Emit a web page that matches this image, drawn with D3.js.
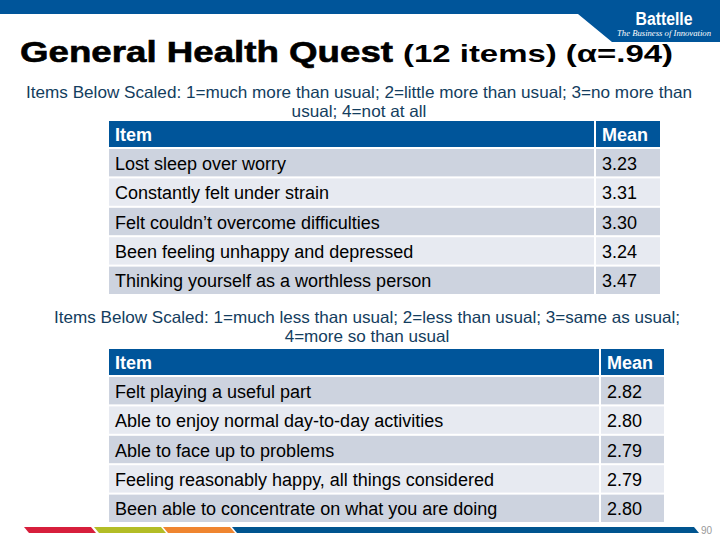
<!DOCTYPE html>
<html>
<head>
<meta charset="utf-8">
<script src="https://cdn.jsdelivr.net/npm/d3@7"></script>
<style>
  html, body { margin: 0; padding: 0; background: #fff; }
  svg { display: block; font-family: "Liberation Sans", Arial, sans-serif; }
</style>
</head>
<body>
<div id="chart"></div>
<script>
// data
const titleMain = "General Health Quest";
const titleSub  = "(12 items) (α=.94)";

const note1 = ["Items Below Scaled: 1=much more than usual; 2=little more than usual; 3=no more than",
               "usual; 4=not at all"];
const items1 = ["Lost sleep over worry", "Constantly felt under strain", "Felt couldn’t overcome difficulties",
                "Been feeling unhappy and depressed", "Thinking yourself as a worthless person"];
const means1 = [3.23, 3.31, 3.30, 3.24, 3.47];

const note2 = ["Items Below Scaled: 1=much less than usual; 2=less than usual; 3=same as usual;",
               "4=more so than usual"];
const items2 = ["Felt playing a useful part", "Able to enjoy normal day-to-day activities", "Able to face up to problems",
                "Feeling reasonably happy, all things considered", "Been able to concentrate on what you are doing"];
const means2 = [2.82, 2.80, 2.79, 2.79, 2.80];

const headers = ["Item", "Mean"];
const stripColors = ["#d71f3c", "#b3bd26", "#ef8530", "#00548f"];

const W = 720, H = 540;
const BLUE = "#00559a";
const ROW_DARK = "#cdd3df", ROW_LIGHT = "#e7eaf1";
const NOTE_COLOR = "#133d5e";
const CELL_FONT = 18;

const svg = d3.select("#chart").append("svg")
  .attr("width", W).attr("height", H);

// top banner
svg.append("path")
  .attr("d", "M0,0H720V42H612L578,14H0Z")
  .attr("fill", BLUE);

svg.append("text")
  .attr("x", 664).attr("y", 25)
  .attr("text-anchor", "middle")
  .attr("fill", "#fff").attr("font-weight", "bold").attr("font-size", 18)
  .attr("textLength", 57).attr("lengthAdjust", "spacingAndGlyphs")
  .text("Battelle");
svg.append("text")
  .attr("x", 664).attr("y", 36)
  .attr("text-anchor", "middle")
  .attr("fill", "#fff").attr("font-size", 8).attr("font-style", "italic")
  .attr("font-family", "'Liberation Serif', 'DejaVu Serif', serif")
  .attr("textLength", 94).attr("lengthAdjust", "spacingAndGlyphs")
  .text("The Business of Innovation");

// title
svg.append("text")
  .attr("x", 20).attr("y", 62)
  .attr("font-weight", "bold").attr("font-size", 30).attr("fill", "#000")
  .attr("stroke", "#000").attr("stroke-width", 0.6)
  .attr("textLength", 373).attr("lengthAdjust", "spacingAndGlyphs")
  .text(titleMain);
svg.append("text")
  .attr("x", 403).attr("y", 62)
  .attr("font-weight", "bold").attr("font-size", 24).attr("fill", "#000")
  .attr("textLength", 270).attr("lengthAdjust", "spacingAndGlyphs")
  .text(titleSub);

// notes: first line fitted to width, second line squeezed by same ratio
function drawNote(lines, cx, y0, w0) {
  let ratio = 1;
  lines.forEach((t, i) => {
    const el = svg.append("text")
      .attr("x", cx).attr("y", y0 + i * 18.5)
      .attr("text-anchor", "middle")
      .attr("font-size", 16.5).attr("fill", NOTE_COLOR)
      .text(t);
    const natural = el.node().getComputedTextLength();
    if (i === 0) ratio = w0 / natural;
    el.attr("textLength", natural * ratio).attr("lengthAdjust", "spacingAndGlyphs");
  });
}
drawNote(note1, 359, 98, 666);
drawNote(note2, 367, 323, 626);

// tables
function drawTable(items, means, top, left, meanX, right) {
  const headerH = 26;
  const y = d3.scaleBand()
    .domain(d3.range(items.length))
    .range([top + headerH + 2, top + headerH + 2 + items.length * 29])
    .paddingInner(2 / 29);

  const g = svg.append("g");

  // header
  g.append("rect").attr("x", left).attr("y", top)
    .attr("width", meanX - 2 - left).attr("height", headerH).attr("fill", BLUE);
  g.append("rect").attr("x", meanX).attr("y", top)
    .attr("width", right - meanX).attr("height", headerH).attr("fill", BLUE);
  g.append("text").attr("x", left + 6).attr("y", top + headerH / 2 + 6.5)
    .attr("fill", "#fff").attr("font-weight", "bold").attr("font-size", CELL_FONT)
    .text(headers[0]);
  g.append("text").attr("x", meanX + 6).attr("y", top + headerH / 2 + 6.5)
    .attr("fill", "#fff").attr("font-weight", "bold").attr("font-size", CELL_FONT)
    .text(headers[1]);

  const rows = g.selectAll(".row")
    .data(items.map((d, i) => ({ item: d, mean: means[i], i })))
    .join("g").attr("class", "row");

  rows.append("rect")
    .attr("x", left).attr("y", d => y(d.i))
    .attr("width", meanX - 2 - left).attr("height", y.bandwidth())
    .attr("fill", d => d.i % 2 === 0 ? ROW_DARK : ROW_LIGHT);
  rows.append("rect")
    .attr("x", meanX).attr("y", d => y(d.i))
    .attr("width", right - meanX).attr("height", y.bandwidth())
    .attr("fill", d => d.i % 2 === 0 ? ROW_DARK : ROW_LIGHT);

  rows.append("text")
    .attr("x", left + 6).attr("y", d => y(d.i) + y.bandwidth() / 2 + 7)
    .attr("font-size", CELL_FONT).attr("fill", "#000")
    .text(d => d.item);
  rows.append("text")
    .attr("x", meanX + 6).attr("y", d => y(d.i) + y.bandwidth() / 2 + 7)
    .attr("font-size", CELL_FONT).attr("fill", "#000")
    .text(d => d.mean.toFixed(2));
}
drawTable(items1, means1, 121, 109, 596, 660);
drawTable(items2, means2, 349, 109, 601, 664);

// bottom strip
const segX = [[24, 91], [94, 161], [163, 230], [232, 694]];
segX.forEach(([a, b], i) => {
  svg.append("path")
    .attr("d", `M${a},527H${b}L${b + 5},533H${a + 5}Z`)
    .attr("fill", stripColors[i]);
});
svg.append("text")
  .attr("x", 712).attr("y", 534).attr("text-anchor", "end")
  .attr("font-size", 10).attr("fill", "#999")
  .text("90");
</script>
</body>
</html>
